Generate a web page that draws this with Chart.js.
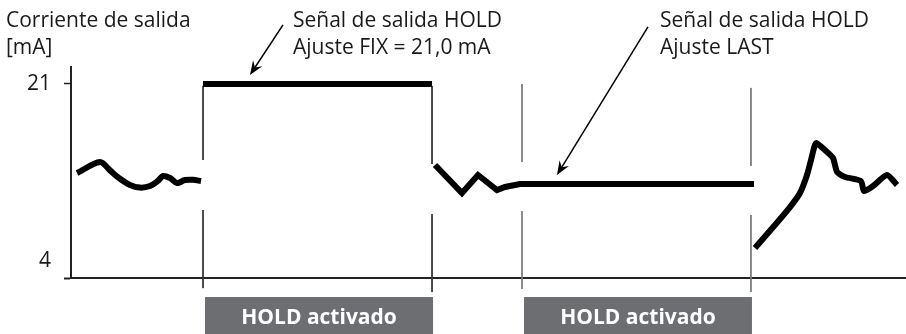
<!DOCTYPE html>
<html>
<head>
<meta charset="utf-8">
<script src="https://cdn.jsdelivr.net/npm/chart.js@4.4.1/dist/chart.umd.min.js"></script>
<style>
    html, body { margin: 0; padding: 0; background: #fff; }
    #wrap { width: 906px; height: 334px; }
</style>
</head>
<body>
<div id="wrap"><canvas id="holdChart" width="906" height="334"></canvas></div>
<script>
// Data (time in % of the sketch width, current in mA)
const Y_MIN = 2.37;
const Y_MAX = 22.63;
const Y_TICKS = [4, 21];

// measured signal before the first HOLD
const seg1T = [0.72, 3.48, 4.68, 5.88, 7.07, 8.27, 9.47, 10.43, 11.03, 11.87, 12.71, 13.67, 14.63, 15.59];
const seg1V = [12.45, 13.51, 12.7, 11.9, 11.3, 11.05, 11.2, 11.7, 12.16, 11.97, 11.49, 11.78, 11.8, 11.68];

// HOLD with FIX = 21 mA
const fixT = [15.83, 43.29];
const fixV = [21, 21];

// measured signal, then HOLD with LAST (keeps last value)
const seg2T = [43.65, 46.88, 48.80, 51.08, 52.04, 53.84, 81.89];
const seg2V = [13.22, 10.53, 12.26, 10.82, 11.11, 11.39, 11.39];

// measured signal after the second HOLD
const seg3T = [82.01, 84.41, 86.21, 87.41, 88.25, 88.73, 89.09, 89.33, 90.41, 91.37, 91.85, 92.81, 94.72, 95.08, 96.16, 97.84, 99.04];
const seg3V = [5.25, 7.46, 9.18, 10.53, 12.26, 13.70, 14.85, 15.33, 14.66, 13.89, 12.55, 12.07, 11.68, 10.72, 11.20, 12.26, 11.30];

// HOLD zones and the marker lines at their edges
const holdZones = [[15.83, 43.29], [54.08, 81.53]];
const holdLabel = 'HOLD activado';
const markerT = [15.83, 43.29, 54.08, 81.53];
const markerTop = [20.81, 20.81, 21.0, 20.62];
const markerGapTop = [13.70, 13.32, 13.51, 13.12];
const markerGapBottom = [8.90, 8.51, 8.80, 8.42];
const markerBottom = [1.40, 1.02, 1.31, 1.02];
const markerColors = ['#333', '#333', '#7a7a7a', '#7a7a7a'];

const yTitle = ['Corriente de salida', '[mA]'];
const notes = [
    { lines: ['Señal de salida HOLD', 'Ajuste FIX = 21,0 mA'], x: 293, from: [25.42, 26.67], to: [21.46, 21.86] },
    { lines: ['Señal de salida HOLD', 'Ajuste LAST'], x: 660, from: [69.18, 26.48], to: [58.27, 12.26] }
];

const FONT = '"Open Sans", "DejaVu Sans", sans-serif';

function pts(ts, vs) {
    return ts.map((t, i) => ({ x: t, y: vs[i] }));
}

const thick = { borderColor: '#000', borderWidth: 6, pointRadius: 0, fill: false, tension: 0, borderJoinStyle: 'miter' };

const datasets = [
    { ...thick, tension: 0.3, data: pts(seg1T, seg1V) },
    { ...thick, data: pts(fixT, fixV) },
    { ...thick, data: pts(seg2T, seg2V) },
    { ...thick, tension: 0.2, data: pts(seg3T, seg3V) }
];

// vertical markers, split around the signal
markerT.forEach((t, i) => {
    const base = { borderColor: markerColors[i], borderWidth: 1, pointRadius: 0, fill: false, clip: false };
    datasets.push({ ...base, data: [{ x: t, y: markerTop[i] }, { x: t, y: markerGapTop[i] }] });
    datasets.push({ ...base, data: [{ x: t, y: markerGapBottom[i] }, { x: t, y: markerBottom[i] }] });
});

function arrow(ctx, x1, y1, x2, y2) {
    const a = Math.atan2(y2 - y1, x2 - x1);
    const len = 14, w = 5.5, notch = 9;
    ctx.beginPath();
    ctx.moveTo(x1, y1);
    ctx.lineTo(x2 - Math.cos(a) * notch, y2 - Math.sin(a) * notch);
    ctx.stroke();
    ctx.beginPath();
    ctx.moveTo(x2, y2);
    ctx.lineTo(x2 - Math.cos(a) * len - Math.sin(a) * w, y2 - Math.sin(a) * len + Math.cos(a) * w);
    ctx.lineTo(x2 - Math.cos(a) * notch, y2 - Math.sin(a) * notch);
    ctx.lineTo(x2 - Math.cos(a) * len + Math.sin(a) * w, y2 - Math.sin(a) * len - Math.cos(a) * w);
    ctx.closePath();
    ctx.fill();
}

const decorPlugin = {
    id: 'decor',
    afterDraw(chart) {
        const { ctx, scales: { x, y } } = chart;
        ctx.save();
        // gray HOLD boxes under the axis
        holdZones.forEach(([a, b]) => {
            const x0 = x.getPixelForValue(a) + 2;
            const x1 = x.getPixelForValue(b) + 1;
            ctx.fillStyle = '#6d6e71';
            ctx.fillRect(x0, 297, x1 - x0, 37);
            ctx.fillStyle = '#fff';
            ctx.font = 'bold 21px ' + FONT;
            ctx.textAlign = 'center';
            ctx.textBaseline = 'middle';
            ctx.fillText(holdLabel, (x0 + x1) / 2, 318);
        });
        // texts
        ctx.fillStyle = '#1a1a1a';
        ctx.font = '21px ' + FONT;
        ctx.textAlign = 'left';
        ctx.textBaseline = 'alphabetic';
        yTitle.forEach((s, i) => ctx.fillText(s, 6, 27 + i * 27));
        notes.forEach(n => {
            n.lines.forEach((s, i) => ctx.fillText(s, n.x, 27 + i * 27));
        });
        // arrows
        ctx.strokeStyle = '#000';
        ctx.fillStyle = '#000';
        ctx.lineWidth = 1.5;
        notes.forEach(n => {
            arrow(ctx,
                x.getPixelForValue(n.from[0]), y.getPixelForValue(n.from[1]),
                x.getPixelForValue(n.to[0]), y.getPixelForValue(n.to[1]));
        });
        ctx.restore();
    }
};

new Chart(document.getElementById('holdChart'), {
    type: 'line',
    data: { datasets },
    options: {
        responsive: false,
        animation: false,
        layout: { padding: { top: 67, right: 1, left: 0, bottom: 0 } },
        plugins: { legend: { display: false }, tooltip: { enabled: false } },
        scales: {
            x: {
                type: 'linear',
                min: 0,
                max: 100,
                ticks: { display: false },
                grid: { display: false },
                border: { display: true, color: '#222', width: 2 },
                afterFit(scale) { scale.height = 56; }
            },
            y: {
                min: Y_MIN,
                max: Y_MAX,
                afterBuildTicks(scale) {
                    scale.ticks = [Y_MIN, ...Y_TICKS].map(v => ({ value: v }));
                },
                afterFit(scale) { scale.width = 71; },
                ticks: {
                    padding: 13,
                    color: '#1a1a1a',
                    font: { family: FONT, size: 21 },
                    callback: v => (Y_TICKS.includes(v) ? String(v) : '')
                },
                grid: {
                    drawOnChartArea: false,
                    tickLength: 7,
                    tickWidth: c => (c.tick && c.tick.value === Y_MIN ? 2 : 1.5),
                    tickColor: c => (c.tick && c.tick.value === 4 ? 'rgba(0,0,0,0)' : '#222')
                },
                border: { display: true, color: '#222', width: 2 }
            }
        }
    },
    plugins: [decorPlugin]
});
</script>
</body>
</html>
